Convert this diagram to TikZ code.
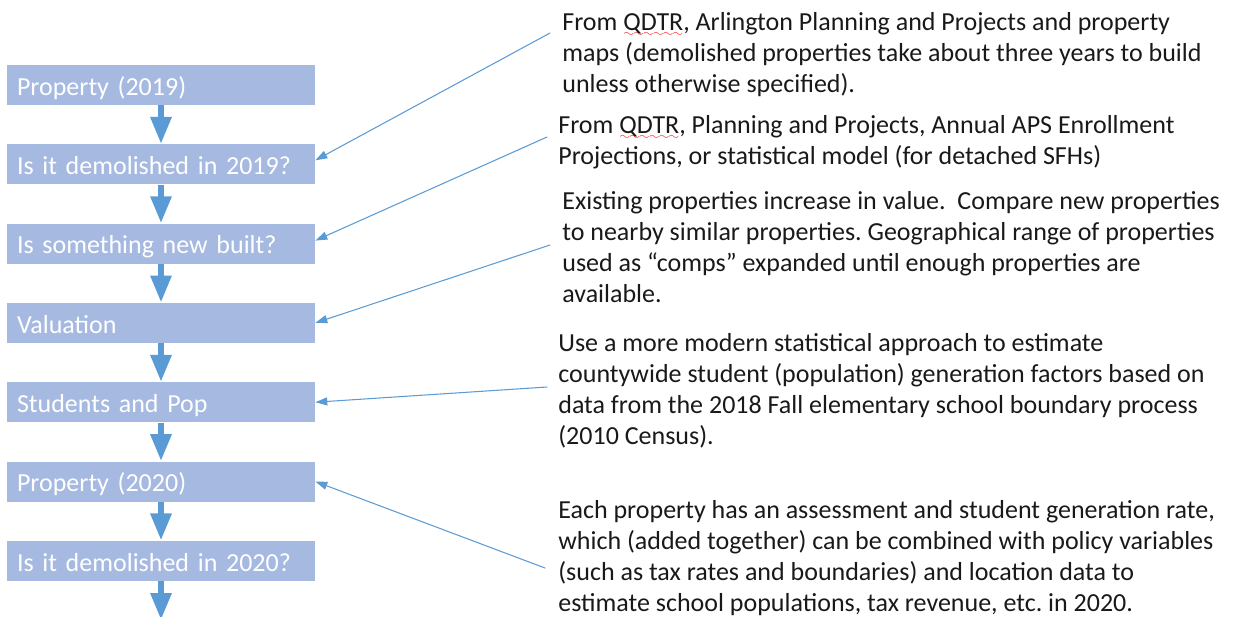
\documentclass[tikz,border=0pt]{standalone}
\usepackage{fontspec}
\setmainfont{Carlito}
\usetikzlibrary{arrows.meta}
\definecolor{boxblue}{RGB}{166,185,225}
\definecolor{flowblue}{RGB}{91,155,213}
% red wavy underline
\font\wavefont=lasy6
\newcommand{\spell}[1]{\setbox0\hbox{#1}\rlap{\color{red}\lower3.5pt\hbox to\wd0{\xleaders\hbox{\wavefont\char58}\hfil}}\box0}
\frenchspacing
\begin{document}
\begin{tikzpicture}[x=0.02cm,y=-0.02cm,font=\fontsize{14.8}{17.6}\selectfont,
	line join=round,line cap=round,
	box/.style={fill=boxblue,text=white,text width=5.76cm,inner xsep=0.2cm,
		inner ysep=0pt,minimum height=0.8cm,text height=12pt,text depth=0.3pt,align=left},
	flow/.style={flowblue,line width=0.12cm,line cap=butt,
		-{Triangle[length=0.54cm,width=0.4cm]}},
	note/.style={anchor=north west,inner sep=0,align=left,text=black!90},
	link/.style={flowblue,line width=0.6pt,-{Triangle[length=0.24cm,width=0.16cm]}}]
	\useasboundingbox (0,0) rectangle (1233,616);
	\clip (0,0) rectangle (1233,616);
	% steps on the left
	\path(161,85)node[box](p19){Property (2019)}
	++(0,79.3)node[box](d19){Is it demolished in 2019?}
	++(0,79.3)node[box](nb){Is something new built?}
	++(0,79.3)node[box](val){Valuation}
	++(0,79.3)node[box](stu){Students and Pop}
	++(0,79.3)node[box](p20){Property (2020)}
	++(0,79.3)node[box](d20){Is it demolished in 2020?}
	;
	\coordinate (more) at (161,620);
	\draw[flow](p19.south)--(d19.north);
	\draw[flow](d19.south)--(nb.north);
	\draw[flow](nb.south)--(val.north);
	\draw[flow](val.south)--(stu.north);
	\draw[flow](stu.south)--(p20.north);
	\draw[flow](p20.south)--(d20.north);
	\draw[flow](d20.south)--(more);
	% notes on the right
	\node[note](n1) at (562,12){From \spell{QDTR}, Arlington Planning and Projects and property\\
		maps (demolished properties take about three years to build\\
		unless otherwise specified).};
	\node[note](n2) at (558,115){From \spell{QDTR}, Planning and Projects, Annual APS Enrollment\\
		Projections, or statistical model (for detached SFHs)};
	\node[note](n3) at (562,191){Existing properties increase in value.\ \ Compare new properties\\
		to nearby similar properties. Geographical range of properties\\
		used as ``comps'' expanded until enough properties are\\
		available.};
	\node[note](n4) at (558,333){Use a more modern statistical approach to estimate\\
		countywide student (population) generation factors based on\\
		data from the 2018 Fall elementary school boundary process\\
		(2010 Census).};
	\node[note](n5) at (558,500){Each property has an assessment and student generation rate,\\
		which (added together) can be combined with policy variables\\
		(such as tax rates and boundaries) and location data to\\
		estimate school populations, tax revenue, etc. in 2020.};
	\coordinate (s1) at (550,33);
	\coordinate (s2) at (547,137);
	\coordinate (s3) at (550,245);
	\coordinate (s4) at (547,387);
	\coordinate (s5) at (545,568);
	\draw[link](s1)--([yshift=0.08cm]d19.east);
	\draw[link](s2)--([yshift=0.06cm]nb.east);
	\draw[link](s3)--(val.east);
	\draw[link](s4)--(stu.east);
	\draw[link](s5)--(p20.east);
\end{tikzpicture}
\end{document}
